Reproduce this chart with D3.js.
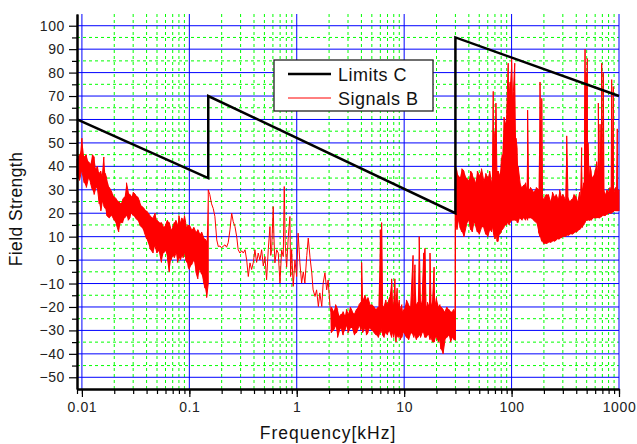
<!DOCTYPE html>
<html>
<head>
<meta charset="utf-8">
<script src="https://cdn.jsdelivr.net/npm/d3@7"></script>
<style>
  body { margin: 0; background: #fff; }
  text { font-family: Arial, "Liberation Sans", sans-serif; }
</style>
</head>
<body>
<svg id="chart" width="637" height="444"></svg>
<script>
// Axis ticks and labels
const xTicks = [0.01, 0.1, 1, 10, 100, 1000];
const xTickLabels = ["0.01", "0.1", "1", "10", "100", "1000"];
const yTicks = [-50, -40, -30, -20, -10, 0, 10, 20, 30, 40, 50, 60, 70, 80, 90, 100];
const yMinorTicks = [-45, -35, -25, -15, -5, 5, 15, 25, 35, 45, 55, 65, 75, 85, 95];

// Limits C (kHz, level)
const limitFreq = [0.009, 0.15, 0.15, 30, 30, 1000];
const limitLevel = [60, 35, 70, 20, 95, 70];

// Signals B as [kHz, low, high] per column
const sigLowBand = [
    [0.009, 36, 43], [0.0095, 34, 45], [0.0098, 37, 47], [0.01, 38, 52], [0.0105, 33, 44],
    [0.011, 31, 45], [0.0115, 35, 42], [0.012, 33, 41], [0.0125, 30, 45], [0.013, 28, 44],
    [0.0135, 31, 39], [0.014, 30, 40], [0.0145, 24, 37], [0.015, 21, 38], [0.0155, 25, 36],
    [0.016, 23, 44], [0.0165, 22, 37], [0.017, 19, 35], [0.018, 18, 31], [0.019, 19, 29],
    [0.02, 17, 27], [0.021, 15, 26], [0.022, 12, 25], [0.023, 16, 24], [0.024, 16, 26],
    [0.025, 18, 27], [0.026, 19, 33], [0.027, 17, 29], [0.028, 18, 28], [0.029, 20, 27],
    [0.03, 19, 29], [0.0315, 18, 28], [0.033, 17, 27], [0.0345, 15, 25], [0.036, 14, 23],
    [0.038, 12, 22], [0.04, 9, 21], [0.043, 5, 19], [0.046, 3, 18], [0.048, 6, 20],
    [0.05, 3, 17], [0.0525, 4, 16], [0.055, -1, 16], [0.0575, 3, 14], [0.06, 4, 15],
    [0.0625, 1, 17], [0.065, -5, 16], [0.0675, 0, 13], [0.07, 2, 14], [0.0725, 1, 16],
    [0.075, 3, 17], [0.0775, -1, 15], [0.08, 1, 19], [0.0825, 0, 16], [0.085, 2, 18],
    [0.0875, 1, 17], [0.09, 3, 19], [0.0925, 0, 16], [0.095, -1, 14], [0.0975, -3, 15],
    [0.1, -4, 15], [0.105, -2, 13], [0.11, 0, 14], [0.115, -5, 12], [0.12, -8, 13],
    [0.125, -4, 11], [0.13, -6, 12], [0.135, -9, 10], [0.14, -12, 9], [0.145, -16, 8],
    [0.15, -10, 30]
];

// thin part of the trace, [kHz, level]
const sigMidTrace = [
    [0.15, 30], [0.155, 28], [0.161, 24], [0.167, 22], [0.173, 18.6], [0.18, 8.6], [0.186, 5.8],
    [0.193, 6], [0.2, 5.2], [0.207, 6], [0.215, 6.5], [0.222, 5.5], [0.23, 7.4], [0.239, 12.9],
    [0.248, 20], [0.256, 16.5], [0.266, 14.3], [0.276, 10], [0.285, 4.4], [0.296, 3], [0.307, 4],
    [0.318, 3], [0.33, 4.4], [0.342, 0], [0.354, -7], [0.367, -1.2], [0.38, -4], [0.394, -1],
    [0.408, 4.4], [0.423, -1], [0.438, 3], [0.454, 0], [0.471, 4.4], [0.488, -2.5], [0.506, 1.5],
    [0.524, -8.4], [0.543, 4.4], [0.563, 14.3], [0.573, 2], [0.584, 4.4], [0.604, 22.8], [0.613, 10],
    [0.626, -1.2], [0.65, 4.4], [0.673, 3], [0.698, -9.8], [0.723, 4.4], [0.749, 1.5], [0.765, 31.4],
    [0.781, 7], [0.805, -3], [0.834, 10], [0.864, 18.6], [0.877, -7], [0.896, 4.4], [0.927, -11.2],
    [0.962, 0], [0.998, -7], [1.03, 11.5], [1.07, -1.2], [1.11, -9.8], [1.15, -5], [1.19, -9.8],
    [1.24, 2], [1.28, 9.4], [1.33, 1], [1.38, -5.4], [1.42, -12.7], [1.48, -15.5], [1.53, -12.7],
    [1.59, -19.8], [1.64, -14], [1.71, -19.8], [1.76, -10], [1.83, -5.4], [1.9, -12.7], [1.96, -8.5],
    [2.04, -19.8], [2.08, -22.5]
];

const sigMidBand = [
    [2.1, -31, -20], [2.2, -30, -22], [2.3, -28, -19], [2.4, -33, -21], [2.5, -30, -24],
    [2.6, -29, -23], [2.7, -32, -22], [2.8, -30, -24], [2.9, -28, -21], [3.0, -31, -23],
    [3.15, -29, -20], [3.3, -29, -22], [3.45, -32, -23], [3.6, -31, -21], [3.8, -28, -19],
    [3.95, -30, -18], [4.02, -28, -1], [4.1, -31, -17], [4.3, -29, -15], [4.45, -32, -17],
    [4.6, -31, -16], [4.8, -29, -19], [5.0, -30, -19], [5.25, -31, -20], [5.5, -32, -21],
    [5.75, -33, -20], [6.0, -30, 13], [6.08, -31, -18], [6.17, -29, 16], [6.3, -32, -19],
    [6.5, -33, -20], [6.75, -31, -17], [7.0, -32, -19], [7.3, -30, -16], [7.65, -33, -8],
    [7.8, -31, -20], [8.0, -33, -18], [8.2, -31, -8], [8.4, -35, -19], [8.6, -32, -12],
    [8.8, -33, -20], [9.0, -32, -17], [9.25, -34, -21], [9.5, -33, -19], [9.75, -31, -22],
    [10, -31, -21], [10.5, -33, -17], [11, -34, -19], [11.5, -31, -20], [12.1, -32, 2],
    [12.3, -33, -20], [12.6, -32, -2], [13, -34, -19], [13.4, -33, -18], [13.8, -32, 10],
    [14.2, -33, -19], [14.7, -31, -17], [15.2, -31, 3], [15.6, -33, 5], [16, -33, -20],
    [16.5, -32, -18], [17, -32, -20], [17.4, -34, 3], [17.8, -33, -19], [18.4, -35, -17],
    [19, -35, -3], [19.5, -33, -19], [20, -33, -16], [21, -35, -20], [21.5, -34, -19],
    [22, -38, -20], [23, -40, -21], [24, -34, -22], [25, -33, -20], [26, -32, -21],
    [27, -35, -22], [28, -33, -22], [29, -34, -21], [29.8, -34, -22], [30, -34, 40]
];

const sigHighBand = [
    [30, 15, 40], [31, 13, 38], [32, 17, 36], [33, 14, 35], [34.5, 12, 39], [36, 10, 38],
    [38, 15, 35], [40, 17, 34], [41.5, 13, 38], [43, 12, 37], [44.5, 16, 35], [46, 15, 33],
    [48, 12, 38], [50, 11, 36], [52.5, 14, 39], [55, 14, 34], [57.5, 11, 37], [60, 10, 35],
    [62.5, 13, 38], [65, 12, 33], [66.5, 14, 40], [67.5, 12, 72], [69, 10, 42], [70, 9, 55],
    [71.5, 11, 67], [73, 8, 38], [75, 8, 38], [77.5, 11, 36], [80, 12, 42], [82, 13, 45],
    [85, 14, 61], [88, 15, 58], [90, 15, 62], [93, 16, 84], [95, 15, 70], [97, 16, 76],
    [100, 17, 86], [102, 17, 68], [104, 17, 72], [107, 17, 84], [110, 17, 52], [112.5, 16, 48],
    [115, 16, 40], [120, 18, 33], [125, 17, 31], [130, 18, 32], [135, 17, 33], [138, 18, 30],
    [141, 17, 64], [144, 18, 30], [150, 18, 31], [160, 17, 29], [170, 16, 31], [178, 12, 30],
    [184, 10, 76], [188, 9, 30], [191, 8, 69], [194, 8, 28], [200, 7, 26], [210, 7, 28],
    [220, 7.5, 28], [230, 7.5, 25], [240, 8, 29], [250, 8, 27], [260, 8.5, 28], [270, 9, 26],
    [280, 9, 30], [290, 9.5, 27], [300, 10, 28], [315, 10, 26], [326, 10.5, 53], [335, 10.5, 27],
    [350, 11, 25], [365, 11, 26], [380, 11.5, 28], [400, 12, 27], [415, 12.5, 25], [430, 13, 29],
    [440, 13.5, 27], [449, 14, 48], [458, 14, 30], [470, 15, 33], [478, 16, 60], [483, 16, 90],
    [490, 17, 72], [495, 17, 80], [501, 17, 62], [507, 17, 86], [515, 17, 50], [525, 17, 36],
    [537, 17, 40], [550, 17, 38], [565, 17.5, 35], [580, 18, 36], [620, 18, 42], [635, 18, 36],
    [642, 18, 67], [650, 18, 36], [666, 18, 58], [676, 18.5, 40], [690, 18.5, 84], [700, 19, 38],
    [714, 19, 80], [725, 19, 30], [750, 19, 28], [775, 19.5, 30], [800, 20, 29], [825, 20, 31],
    [845, 20, 30], [855, 20, 77], [870, 20.5, 40], [885, 20.5, 74], [900, 21, 29], [930, 21, 31],
    [950, 21, 30], [964, 21, 56], [980, 21, 29], [1000, 21, 30]
];

const svg = d3.select("#chart");

// Scales (plot box 77..619 x 14..389)
const x = d3.scaleLog().domain([0.009, 1000]).range([77, 619]);
const y = d3.scaleLinear().domain([-55, 105]).range([389, 14]);

// Grid
const grid = svg.append("g");
const minorX = x.ticks().filter(v => xTicks.indexOf(v) < 0 && v > 0.0095);

grid.selectAll(".gx-minor").data(minorX).enter().append("line")
    .attr("x1", d => x(d)).attr("x2", d => x(d))
    .attr("y1", 14).attr("y2", 389)
    .attr("stroke", "#00ff00").attr("stroke-dasharray", "3,3");

grid.selectAll(".gy-minor").data(yMinorTicks).enter().append("line")
    .attr("x1", 77).attr("x2", 619)
    .attr("y1", d => y(d)).attr("y2", d => y(d))
    .attr("stroke", "#00ff00").attr("stroke-dasharray", "3,3");

grid.selectAll(".gx").data(xTicks).enter().append("line")
    .attr("x1", d => x(d)).attr("x2", d => x(d))
    .attr("y1", 14).attr("y2", 389)
    .attr("stroke", "#0000ff");

grid.selectAll(".gy").data(yTicks).enter().append("line")
    .attr("x1", 77).attr("x2", 619)
    .attr("y1", d => y(d)).attr("y2", d => y(d))
    .attr("stroke", "#0000ff");

// Signals B
const signal = [].concat(
    sigLowBand,
    sigMidTrace.map(d => [d[0], d[1], d[1]]),
    sigMidBand,
    sigHighBand
);

const bandArea = d3.area()
    .x(d => x(d[0]))
    .y0(d => y(d[1]))
    .y1(d => y(d[2]));

svg.append("path")
    .datum(signal)
    .attr("d", bandArea)
    .attr("fill", "#ff0000");

// min/max trace, each column drawn as a vertical stroke
const zig = [];
signal.forEach((d, i) => {
    if (i % 2 === 0) zig.push([d[0], d[1]], [d[0], d[2]]);
    else zig.push([d[0], d[2]], [d[0], d[1]]);
});

svg.append("path")
    .datum(zig)
    .attr("d", d3.line().x(d => x(d[0])).y(d => y(d[1])))
    .attr("fill", "none")
    .attr("stroke", "#ff0000")
    .attr("stroke-width", 1);

// Limits C
const limits = limitFreq.map((f, i) => [f, limitLevel[i]]);
svg.append("path")
    .datum(limits)
    .attr("d", d3.line().x(d => x(d[0])).y(d => y(d[1])))
    .attr("fill", "none")
    .attr("stroke", "#000")
    .attr("stroke-width", 2.5);

// Axes
function styleAxis(g) {
    g.select(".domain").attr("stroke", "#000").attr("stroke-width", 2);
    g.selectAll(".tick line").attr("stroke", "#000").attr("stroke-width", 1.2);
    g.selectAll(".tick text")
        .attr("fill", "#222")
        .style("font-size", "14px")
        .style("letter-spacing", "0.6px");
}

svg.append("g")
    .attr("transform", "translate(0,389)")
    .call(d3.axisBottom(x).tickValues(x.ticks()).tickSize(5).tickSizeOuter(0).tickFormat(""))
    .call(styleAxis);

svg.append("g")
    .attr("transform", "translate(0,389)")
    .call(d3.axisBottom(x).tickValues(xTicks).tickSize(8).tickPadding(5).tickSizeOuter(0)
        .tickFormat((d, i) => xTickLabels[i]))
    .call(styleAxis);

svg.append("g")
    .attr("transform", "translate(77,0)")
    .call(d3.axisLeft(y).tickValues(yMinorTicks).tickSize(5).tickSizeOuter(0).tickFormat(""))
    .call(styleAxis);

svg.append("g")
    .attr("transform", "translate(77,0)")
    .call(d3.axisLeft(y).tickValues(yTicks).tickSize(8).tickPadding(4).tickSizeOuter(0))
    .call(styleAxis);

// Axis titles
svg.append("text")
    .attr("x", 328).attr("y", 439)
    .attr("text-anchor", "middle")
    .style("font-size", "17.5px")
    .style("letter-spacing", "1px")
    .attr("fill", "#111")
    .text("Frequency[kHz]");

svg.append("text")
    .attr("transform", "translate(22,209) rotate(-90)")
    .attr("text-anchor", "middle")
    .style("font-size", "17.5px")
    .style("letter-spacing", "0.4px")
    .attr("fill", "#111")
    .text("Field Strength");

// Legend
const legend = svg.append("g").attr("transform", "translate(274,60)");
legend.append("rect")
    .attr("width", 159).attr("height", 51)
    .attr("fill", "#fff")
    .attr("stroke", "#222")
    .attr("stroke-width", 1.3);

const legendData = [
    { label: "Limits C", color: "#000", width: 2.5, ly: 14 },
    { label: "Signals B", color: "#ff0000", width: 1, ly: 38 }
];

legend.selectAll(".lg-line").data(legendData).enter().append("line")
    .attr("x1", 14).attr("x2", 57)
    .attr("y1", d => d.ly).attr("y2", d => d.ly)
    .attr("stroke", d => d.color)
    .attr("stroke-width", d => d.width);

legend.selectAll(".lg-text").data(legendData).enter().append("text")
    .attr("x", 64).attr("y", d => d.ly + 6.5)
    .style("font-size", "18px")
    .style("letter-spacing", "0.5px")
    .attr("fill", "#111")
    .text(d => d.label);
</script>
</body>
</html>
